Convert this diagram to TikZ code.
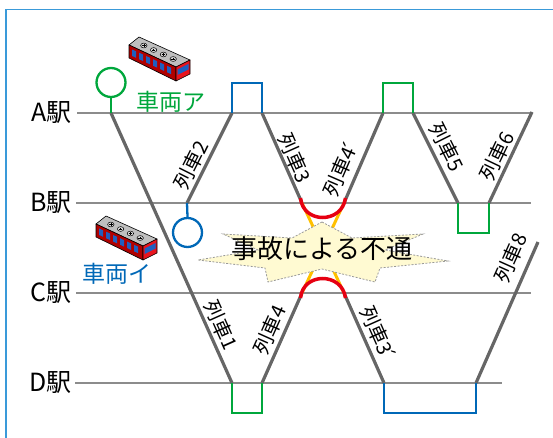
\documentclass[tikz,border=0pt]{standalone}
\usepackage{fontspec}
\newfontfamily\jp{Noto Sans CJK JP}
\newfontfamily\dv{DejaVu Sans}
\newcommand{\primemark}{{\dv\kern-0.22em ´}}
\definecolor{stationgray}{HTML}{8C8C8C}
\definecolor{trackgray}{HTML}{666666}
\definecolor{jrgreen}{HTML}{00A73C}
\definecolor{jrblue}{HTML}{0068B7}
\definecolor{framblue}{HTML}{3A9AD9}
\definecolor{alarmred}{HTML}{E60012}
\definecolor{alarmorange}{HTML}{FFC000}
\definecolor{starfill}{HTML}{FFFAD2}
\definecolor{roofgray}{HTML}{BFBFBF}
\definecolor{carred}{HTML}{B00000}
\definecolor{endred}{HTML}{E8141E}
\definecolor{winblue}{HTML}{1F5FC0}
\tikzset{
  stationline/.style={draw=stationgray, line width=1.3pt},
  track/.style={draw=trackgray, line width=3.2pt, line join=round},
  hookgreen/.style={draw=jrgreen, line width=2.3pt},
  hookblue/.style={draw=jrblue, line width=2.3pt},
  crash/.style={draw=alarmred, line width=3.5pt},
  crossing/.style={draw=alarmorange, line width=3pt},
  stationlabel/.style={font=\jp\fontsize{25}{25}\selectfont, inner sep=0pt, anchor=east},
  trainlabel/.style={font=\jp\fontsize{20}{20}\selectfont, inner sep=0pt},
  carlabel/.style={font=\jp\fontsize{23}{23}\selectfont, inner sep=0pt},
  railcar/.pic={
    % roof, long side and front end of a small rail car
    \draw[fill=roofgray, line width=0.6pt, line join=round] (0,0) -- (10,-8) -- (61,15) -- (47,22) -- cycle;
    \draw[fill=carred, line width=0.6pt, line join=round] (0,0) -- (47,22) -- (47,36) -- (0,13) -- cycle;
    \draw[fill=endred, line width=0.6pt, line join=round] (47,22) -- (61,15) -- (61,29) -- (47,36) -- cycle;
    \foreach \a in {3,10,17,24,31,38}
      \fill[winblue] (\a,{0.468*\a+3}) -- ({\a+4},{0.468*(\a+4)+3}) -- ({\a+4},{0.468*(\a+4)+9.5}) -- (\a,{0.468*\a+9.5}) -- cycle;
    \fill[winblue] (48.5,24.5) -- (59.5,19) -- (59.5,24.5) -- (48.5,30) -- cycle;
    \foreach \t in {0.2,0.4,0.6,0.8} {
      \draw[line width=0.5pt, fill=roofgray!60] ({5+49*\t},{-4+22.5*\t}) ellipse [x radius=3.2, y radius=2.4];
      \draw[line width=0.4pt] ({5+49*\t-1.8},{-4+22.5*\t}) -- ({5+49*\t+1.8},{-4+22.5*\t})
                              ({5+49*\t},{-4+22.5*\t-1.3}) -- ({5+49*\t},{-4+22.5*\t+1.3});
    }
  }
}
\begin{document}
\begin{tikzpicture}[x=1pt, y=-1pt]
\useasboundingbox (0,0) rectangle (553,438);

% frame
\draw[framblue, line width=1.1pt] (6,445) -- (6,9.5) -- (560,9.5);

% station levels
\coordinate (A0) at (77,113);  \coordinate (A1) at (532,113);
\coordinate (B0) at (76,203);  \coordinate (B1) at (531,203);
\coordinate (C0) at (76,293);  \coordinate (C1) at (531,293);
\coordinate (D0) at (75,383);  \coordinate (D1) at (502,383);
\draw[stationline] (A0) -- (A1);
\draw[stationline] (B0) -- (B1);
\draw[stationline] (C0) -- (C1);
\draw[stationline] (D0) -- (D1);

\node[stationlabel] (lA) at (72,113) {A駅};
\node[stationlabel] (lB) at (72,203) {B駅};
\node[stationlabel] (lC) at (72,293) {C駅};
\node[stationlabel] (lD) at (72,383) {D駅};

% crossing point of the blocked section
\coordinate (xUL) at (302,203); \coordinate (xUR) at (344,203);
\coordinate (xLL) at (302,293); \coordinate (xLR) at (344,293);
\draw[crossing] (xUL) -- (xLR);
\draw[crossing] (xUR) -- (xLL);

% accident burst
\draw[fill=starfill, draw=gray!80, line width=0.8pt, dash pattern=on 2pt off 1.5pt]
  (322,222) -- (352,238) -- (423,234) -- (385,250) -- (448,261) -- (380,268) -- (375,282)
  -- (322,269) -- (268,282) -- (265,268) -- (198,260) -- (258,250) -- (223,234) -- (292,238) -- cycle;
\node[font=\jp\fontsize{26}{26}\selectfont, inner sep=0pt] (acc) at (322,249) {事故による不通};

% track points
\coordinate (t1a) at (111,113);  \coordinate (t1d) at (232,383);
\coordinate (t4d) at (262,383);
\coordinate (t2b) at (187,203);  \coordinate (t2a) at (232,113);
\coordinate (t3a) at (262,113);
\coordinate (t4pa) at (383,113);
\coordinate (t5a) at (413,113);  \coordinate (t5b) at (458,203);
\coordinate (t6b) at (489,203);  \coordinate (t6a) at (532,112);
\coordinate (t3pd) at (384,383);
\coordinate (t8d) at (476,383);  \coordinate (t8e) at (538,242);

% train paths
\draw[track] (t1a) -- (t1d);
\draw[track] (t4d) -- (xLL);
\draw[track] (t2b) -- (t2a);
\draw[track] (t3a) -- (xUL);
\draw[track] (xUR) -- (t4pa);
\draw[track] (t5a) -- (t5b);
\draw[track] (t6b) -- (t6a);
\draw[track] (xLR) -- (t3pd);
\draw[track] (t8d) -- (t8e);

% blocked turn-backs
\draw[crash] (300.5,198) .. controls (303,224) and (342,224) .. (345.5,198);
\draw[crash] (300.5,298) .. controls (303,272) and (342,272) .. (345.5,298);

% turn-backs at the stations
\draw[hookblue]  (t2a) -- ++(0,-30) -| (t3a);
\draw[hookgreen] (t4pa) -- ++(0,-30) -| (t5a);
\draw[hookgreen] (t5b) -- ++(0,30) -| (t6b);
\draw[hookgreen] (t1d) -- ++(0,30) -| (t4d);
\draw[hookblue]  (t3pd) -- ++(0,30) -| (t8d);

% car A start
\node[circle, draw=jrgreen, line width=2.3pt, minimum size=29pt, inner sep=0pt] (carA) at (111,82.5) {};
\draw[hookgreen] (carA.south) -- (t1a);
% car B start
\node[circle, draw=jrblue, line width=2.3pt, minimum size=29pt, inner sep=0pt] (carB) at (187.5,232.5) {};
\draw[hookblue] (carB.north) -- (t2b);

\pic at (129,45) {railcar};
\pic at (96,224) {railcar};
\node[carlabel, text=jrgreen] (nA) at (171,102) {車両ア};
\node[carlabel, text=jrblue] (nB) at (117,274) {車両イ};

% train numbers
\node[trainlabel, rotate=-65.9] (n1) at (221,325) {列車1};
\node[trainlabel, rotate=65.9]  (n4) at (270,330) {列車4};
\node[trainlabel, rotate=63.4]  (n2) at (191,165) {列車2};
\node[trainlabel, rotate=-66]   (n3) at (295,158) {列車3};
\node[trainlabel, rotate=66.6]  (n4p) at (341,169) {列車4\primemark};
\node[trainlabel, rotate=-63.4] (n5) at (447,147) {列車5};
\node[trainlabel, rotate=64.5]  (n6) at (497,156) {列車6};
\node[trainlabel, rotate=-66]   (n3p) at (378,333) {列車3\primemark};
\node[trainlabel, rotate=65.9]  (n8) at (511,258) {列車8};
\end{tikzpicture}
\end{document}
